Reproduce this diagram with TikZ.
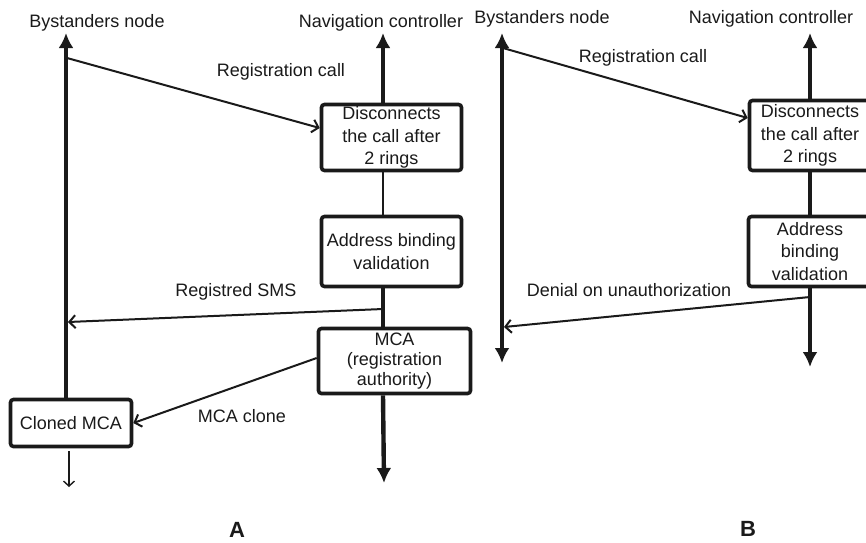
\documentclass[tikz,border=0pt]{standalone}
\usepackage{fontspec}
\setmainfont{Liberation Sans}
\usetikzlibrary{arrows.meta,calc}
\definecolor{ink}{HTML}{1A1A1A}
\begin{document}
\begin{tikzpicture}[x=1pt,y=-1pt,
  box/.style={draw=ink, line width=3.6pt, rounded corners=3pt, fill=white, align=center, inner sep=0pt, font=\fontsize{18}{22.5}\selectfont, text=ink},
  life/.style={draw=ink, line width=4.4pt},
  lifetip/.style={-{Latex[length=15pt,width=15pt]}},
  msg/.style={draw=ink, line width=2pt, -{Straight Barb[length=6pt,width=13pt]}},
  lbl/.style={anchor=base, font=\fontsize{18}{22}\selectfont, text=ink, inner sep=0pt},
  panel/.style={anchor=base, font=\fontsize{22}{26}\selectfont\bfseries, text=ink, inner sep=0pt}]
\useasboundingbox (0,0) rectangle (866,542);
\fill[white] (0,0) rectangle (866,542);
\clip (0,0) rectangle (866,542);

% ---------- coordinates ----------
\coordinate (aL) at (66,33);
\coordinate (aR) at (383,33);
\coordinate (aRbot) at (384,483);
\coordinate (bL) at (502,33);
\coordinate (bLbot) at (502,363);
\coordinate (bR) at (810,33);
\coordinate (bRbot) at (810,367);
\coordinate (regAs) at (67,58);
\coordinate (smsAs) at (383,309);
\coordinate (smsAe) at (68,322);
\coordinate (cloneOut) at (69,487);
\coordinate (regBs) at (503,48);
\coordinate (denBs) at (810,297);
\coordinate (denBe) at (504,327);

% ---------- boxes (panel A) ----------
\node[box, minimum width=140pt, minimum height=66pt] (disA) at (391.5,137.5) {Disconnects\\the call after\\2 rings};
\node[box, minimum width=140pt, minimum height=70pt] (addrA) at (391.5,251.5) {Address binding\\validation};
\node[box, minimum width=152pt, minimum height=65pt, font=\fontsize{18}{20}\selectfont] (mcaA) at (394.5,361) {MCA\\(registration\\authority)};
\node[box, minimum width=121pt, minimum height=47pt] (cloneA) at (71,423) {Cloned MCA};

% ---------- boxes (panel B) ----------
\node[box, minimum width=121pt, minimum height=70pt] (disB) at (810,135.5) {Disconnects\\the call after\\2 rings};
\node[box, minimum width=123pt, minimum height=70pt] (addrB) at (810,251.5) {Address\\binding\\validation};

% ---------- panel A lines ----------
\draw[life,lifetip] (aL |- cloneA.north) -- (aL);
\draw[life,lifetip] (aR |- disA.north) -- (aR);
\draw[ink, line width=2pt] (aR |- disA.south) -- (aR |- addrA.north);
\draw[life] (aR |- addrA.south) -- (aR |- mcaA.north);
\draw[life,lifetip] (aR |- mcaA.south) -- (aRbot);
\draw[msg] (regAs) -- ([yshift=9.5pt]disA.west);
\draw[msg] (smsAs) -- (smsAe);
\draw[msg] ([yshift=3pt]mcaA.west) -- (cloneA.east);
\draw[ink, line width=1.4pt, -{Straight Barb[length=5pt,width=11pt]}, shorten <=3pt] (cloneA.south -| cloneOut) -- (cloneOut);

% ---------- panel B lines ----------
\draw[life, {Latex[length=15pt,width=15pt]}-{Latex[length=15pt,width=15pt]}] (bLbot) -- (bL);
\draw[life,lifetip] (bR |- disB.north) -- (bR);
\draw[life] (bR |- disB.south) -- (bR |- addrB.north);
\draw[life,lifetip] (bR |- addrB.south) -- (bRbot);
\draw[msg] (regBs) -- ([yshift=17.5pt]disB.west);
\draw[msg] (denBs) -- (denBe);

% ---------- labels ----------
\node[lbl] (hA1) at (97,27) {Bystanders node};
\node[lbl] (hA2) at (381,27) {Navigation controller};
\node[lbl] (hB1) at (542,23) {Bystanders node};
\node[lbl] (hB2) at (771,23) {Navigation controller};
\node[lbl] (lRegA) at (281,76) {Registration call};
\node[lbl] (lSms) at (236,296) {Registred SMS};
\node[lbl] (lClone) at (242,422) {MCA clone};
\node[lbl] (lRegB) at (643,62) {Registration call};
\node[lbl] (lDen) at (629,296) {Denial on unauthorization};
\node[panel] (pA) at (237,537) {A};
\node[panel] (pB) at (748,536) {B};
\end{tikzpicture}
\end{document}
